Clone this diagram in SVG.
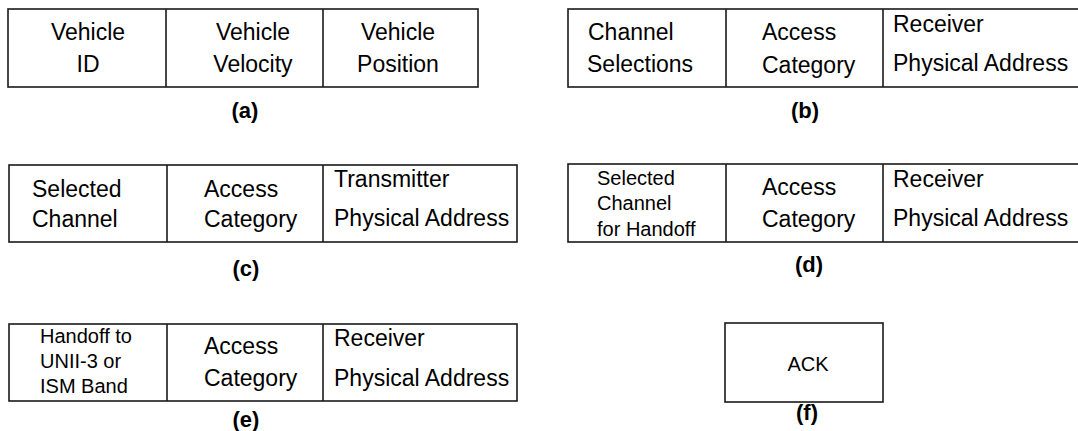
<svg xmlns="http://www.w3.org/2000/svg" width="1078" height="431" viewBox="0 0 1078 431">
<style>
.box{fill:#fff;stroke:#1a1a1a;stroke-width:1.6}
.div{stroke:#1a1a1a;stroke-width:1.6}
.t{font-family:"Liberation Sans",Arial,sans-serif;font-size:23px;fill:#000}
.s{font-family:"Liberation Sans",Arial,sans-serif;font-size:20px;fill:#000}
.c{text-anchor:middle}
.lbl{font-family:"Liberation Sans",Arial,sans-serif;font-size:22px;font-weight:bold;fill:#000;text-anchor:middle}
</style>
<rect width="1078" height="431" fill="#fff"/>
<g id="frame-a">
<rect class="box" x="8" y="9" width="470" height="78"/>
<line class="div" x1="166" y1="9" x2="166" y2="87"/>
<line class="div" x1="323" y1="9" x2="323" y2="87"/>
<text class="t c" x="88" y="40">Vehicle</text>
<text class="t c" x="88" y="72">ID</text>
<text class="t c" x="253" y="40">Vehicle</text>
<text class="t c" x="253" y="72">Velocity</text>
<text class="t c" x="398" y="40">Vehicle</text>
<text class="t c" x="398" y="72">Position</text>
<text class="lbl" x="245" y="118">(a)</text>
</g>
<g id="frame-b">
<rect class="box" x="568" y="9" width="520" height="78"/>
<line class="div" x1="726" y1="9" x2="726" y2="87"/>
<line class="div" x1="883" y1="9" x2="883" y2="87"/>
<text class="t" x="588" y="40">Channel</text>
<text class="t" x="587" y="72">Selections</text>
<text class="t" x="762" y="40">Access</text>
<text class="t" x="762" y="73">Category</text>
<text class="t" x="893" y="32">Receiver</text>
<text class="t" x="893" y="71">Physical Address</text>
<text class="lbl" x="805" y="118">(b)</text>
</g>
<g id="frame-c">
<rect class="box" x="9" y="165" width="508" height="77"/>
<line class="div" x1="167" y1="165" x2="167" y2="242"/>
<line class="div" x1="323" y1="165" x2="323" y2="242"/>
<text class="t" x="32" y="197">Selected</text>
<text class="t" x="32" y="227">Channel</text>
<text class="t" x="204" y="197">Access</text>
<text class="t" x="204" y="227">Category</text>
<text class="t" x="334" y="187">Transmitter</text>
<text class="t" x="334" y="226">Physical Address</text>
<text class="lbl" x="246" y="276">(c)</text>
</g>
<g id="frame-d">
<rect class="box" x="568" y="164" width="520" height="78"/>
<line class="div" x1="726" y1="164" x2="726" y2="242"/>
<line class="div" x1="883" y1="164" x2="883" y2="242"/>
<text class="s" x="597" y="185">Selected</text>
<text class="s" x="597" y="210">Channel</text>
<text class="s" x="597" y="236">for Handoff</text>
<text class="t" x="762" y="195">Access</text>
<text class="t" x="762" y="227">Category</text>
<text class="t" x="893" y="187">Receiver</text>
<text class="t" x="893" y="226">Physical Address</text>
<text class="lbl" x="809" y="272">(d)</text>
</g>
<g id="frame-e">
<rect class="box" x="9" y="324" width="508" height="77"/>
<line class="div" x1="167" y1="324" x2="167" y2="401"/>
<line class="div" x1="323" y1="324" x2="323" y2="401"/>
<text class="s" x="40" y="343">Handoff to</text>
<text class="s" x="40" y="368">UNII-3 or</text>
<text class="s" x="40" y="393">ISM Band</text>
<text class="t" x="204" y="354">Access</text>
<text class="t" x="204" y="386">Category</text>
<text class="t" x="334" y="346">Receiver</text>
<text class="t" x="334" y="386">Physical Address</text>
<text class="lbl" x="246" y="427">(e)</text>
</g>
<g id="frame-f">
<rect class="box" x="725" y="323" width="158" height="79"/>
<text class="s c" x="808" y="371">ACK</text>
<text class="lbl" x="807" y="420">(f)</text>
</g>
<g id="connectors"/>
</svg>
